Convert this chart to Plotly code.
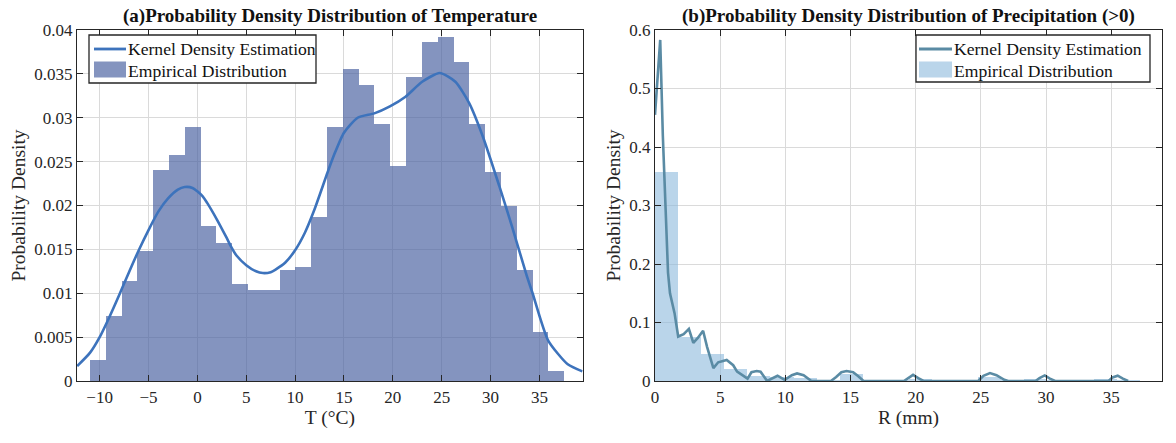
import plotly.graph_objects as go

# ---------------- data ----------------
# (a) temperature histogram: bin edges and densities
temp_bin_edges = [-11.0, -9.38, -7.76, -6.15, -4.53, -2.91, -1.29, 0.33, 1.94, 3.56,
                  5.18, 6.80, 8.42, 10.03, 11.65, 13.27, 14.89, 16.51, 18.12, 19.74,
                  21.36, 22.98, 24.60, 26.21, 27.83, 29.45, 31.07, 32.69, 34.30, 35.92, 37.54]
temp_density = [0.0024, 0.0074, 0.0114, 0.0148, 0.0240, 0.0258, 0.0289, 0.0177, 0.0157, 0.0110,
                0.0104, 0.0104, 0.0126, 0.0130, 0.0187, 0.0290, 0.0355, 0.0337, 0.0293, 0.0245,
                0.0346, 0.0386, 0.0392, 0.0364, 0.0293, 0.0238, 0.0199, 0.0126, 0.0056, 0.0011]
# (a) kernel density estimate
temp_kde_x = [-12.3, -11, -10, -9, -8, -7, -6, -5, -4, -3, -2, -1.3, -0.5, 0.5, 1.0, 2.0, 3.0, 3.5,
              4.0, 5.0, 6.0, 6.7, 7.5, 8.0, 9.0, 10.0, 11.0, 12.0, 13.3, 14.0, 15.0, 16.4, 18.1,
              19.7, 21.3, 23.0, 24.8, 26.4, 27.8, 29.2, 30.9, 32.2, 33.7, 34.3, 35.9, 37.9, 39.4]
temp_kde_y = [0.0017, 0.0032, 0.0050, 0.0073, 0.0098, 0.0124, 0.0149, 0.0172, 0.0193, 0.0208,
              0.0218, 0.0221, 0.0220, 0.0211, 0.0203, 0.0184, 0.0163, 0.0152, 0.0143, 0.0132,
              0.0125, 0.0123, 0.0124, 0.0127, 0.0135, 0.0149, 0.0169, 0.0196, 0.0237, 0.0258,
              0.0283, 0.0300, 0.0305, 0.0313, 0.0324, 0.0341, 0.0351, 0.0341, 0.0317, 0.0279,
              0.0222, 0.0176, 0.0120, 0.0100, 0.0046, 0.0019, 0.0011]

# (b) precipitation histogram
prec_bin_edges = [0.0, 1.77, 3.54, 5.31, 7.08, 8.86, 10.63, 12.40, 14.17, 15.94, 17.71, 19.48,
                  21.25, 23.02, 24.79, 26.56, 28.33, 30.10, 31.88, 33.65, 35.42, 37.19]
prec_density = [0.357, 0.075, 0.046, 0.020, 0.009, 0.006, 0.005, 0.002, 0.012, 0.0, 0.002,
                0.003, 0.0, 0.0, 0.006, 0.001, 0.003, 0.001, 0.0, 0.003, 0.002]
# (b) kernel density estimate
prec_kde_x = [0.0, 0.4, 0.6, 0.8, 1.0, 1.15, 1.5, 1.78, 2.2, 2.6, 2.94, 3.3, 3.69, 4.0, 4.48,
              4.85, 5.5, 6.0, 6.3, 7.1, 7.4, 7.8, 8.1, 8.6, 9.0, 9.4, 9.95, 10.5, 10.9, 11.4,
              12.0, 13.5, 13.9, 14.3, 14.7, 15.2, 15.6, 16.0, 19.1, 19.5, 19.8, 20.2, 20.6,
              24.8, 25.2, 25.7, 26.2, 26.8, 27.1, 29.2, 29.5, 29.9, 30.3, 30.7, 34.8, 35.1,
              35.5, 35.9, 36.3]
prec_kde_y = [0.455, 0.583, 0.42, 0.287, 0.185, 0.150, 0.116, 0.076, 0.080, 0.089, 0.065,
              0.074, 0.086, 0.058, 0.022, 0.032, 0.036, 0.027, 0.016, 0.004, 0.015, 0.017,
              0.016, 0.0, 0.004, 0.009, 0.002, 0.010, 0.013, 0.010, 0.0, 0.0, 0.007, 0.015,
              0.017, 0.015, 0.008, 0.0, 0.0, 0.006, 0.0105, 0.005, 0.0, 0.0, 0.009, 0.0135,
              0.010, 0.002, 0.0, 0.0, 0.005, 0.0096, 0.004, 0.0, 0.0, 0.006, 0.009, 0.004, 0.0]

temp_ticks = [-10, -5, 0, 5, 10, 15, 20, 25, 30, 35]
temp_yticks = [0, 0.005, 0.01, 0.015, 0.02, 0.025, 0.03, 0.035, 0.04]
prec_ticks = [0, 5, 10, 15, 20, 25, 30, 35]
prec_yticks = [0, 0.1, 0.2, 0.3, 0.4, 0.5, 0.6]

legend_labels = ["Kernel Density Estimation", "Empirical Distribution"]

# ---------------- figure ----------------
FONT = "Liberation Serif"
W, H = 1176, 443
ML, MR, MT, MB = 77, 14, 30, 62
PW, PH = W - ML - MR, H - MT - MB

TEMP_BAR = "rgba(72,95,160,0.67)"
TEMP_LINE = "#3D73BC"
PREC_BAR = "rgba(140,185,220,0.6)"
PREC_LINE = "#5A8BA4"


def px(xp):
    return (xp - ML) / PW


def py(yp):
    return (H - MB - yp) / PH


def centers_widths(edges):
    c = [(edges[i] + edges[i + 1]) / 2 for i in range(len(edges) - 1)]
    w = [edges[i + 1] - edges[i] for i in range(len(edges) - 1)]
    return c, w


fig = go.Figure()

tc, tw = centers_widths(temp_bin_edges)
fig.add_trace(go.Bar(x=tc, y=temp_density, width=tw, name=legend_labels[1],
                     marker=dict(color=TEMP_BAR, line=dict(width=0)),
                     xaxis="x", yaxis="y", showlegend=False))
fig.add_trace(go.Scatter(x=temp_kde_x, y=temp_kde_y, mode="lines", name=legend_labels[0],
                         line=dict(color=TEMP_LINE, width=2.6, shape="spline", smoothing=0.6),
                         xaxis="x", yaxis="y", showlegend=False))

pc, pw = centers_widths(prec_bin_edges)
fig.add_trace(go.Bar(x=pc, y=prec_density, width=pw, name=legend_labels[1],
                     marker=dict(color=PREC_BAR, line=dict(width=0)),
                     xaxis="x2", yaxis="y2", showlegend=False))
fig.add_trace(go.Scatter(x=prec_kde_x, y=prec_kde_y, mode="lines", name=legend_labels[0],
                         line=dict(color=PREC_LINE, width=2.6),
                         xaxis="x2", yaxis="y2", showlegend=False))

D1 = [px(77), px(582.7)]
D2 = [px(655), px(1162)]

axis_common = dict(showline=True, linecolor="#262626", linewidth=1.2, mirror="ticks",
                   ticks="inside", ticklen=6, tickcolor="#262626", tickwidth=1.2,
                   showgrid=True, gridcolor="#DADADA", gridwidth=1, zeroline=False,
                   automargin=False,
                   tickfont=dict(family=FONT, size=17, color="#262626"))

shapes = []
annotations = []


def add_legend(x0, x1, y0, y1, sym_x0, sym_x1, line_color, bar_color, text_x, rows_y, rect_y):
    shapes.append(dict(type="rect", xref="paper", yref="paper", x0=px(x0), x1=px(x1),
                       y0=py(y1), y1=py(y0), fillcolor="white",
                       line=dict(color="#262626", width=1.3), layer="above"))
    shapes.append(dict(type="line", xref="paper", yref="paper", x0=px(sym_x0), x1=px(sym_x1),
                       y0=py(rows_y[0]), y1=py(rows_y[0]),
                       line=dict(color=line_color, width=2.8), layer="above"))
    shapes.append(dict(type="rect", xref="paper", yref="paper", x0=px(sym_x0), x1=px(sym_x1),
                       y0=py(rect_y[1]), y1=py(rect_y[0]), fillcolor=bar_color,
                       line=dict(width=0), layer="above"))
    for lab, ry in zip(legend_labels, rows_y):
        annotations.append(dict(text=lab, x=px(text_x), y=py(ry), xref="paper", yref="paper",
                                xanchor="left", yanchor="middle", showarrow=False,
                                font=dict(family=FONT, size=17.6, color="#111")))


add_legend(89, 316, 35, 83, 94, 126, TEMP_LINE, TEMP_BAR, 125.5, [49, 70.5], [61.5, 77.5])
add_legend(916, 1150, 35, 82, 919, 952, PREC_LINE, PREC_BAR, 951.5, [49, 70.5], [61.5, 77.5])

annotations += [
    dict(text="<b>(a)Probability Density Distribution of Temperature</b>", x=(D1[0] + D1[1]) / 2,
         y=1, xref="paper", yref="paper", xanchor="center", yanchor="bottom", showarrow=False,
         font=dict(family=FONT, size=19, color="#111"), yshift=1),
    dict(text="<b>(b)Probability Density Distribution of Precipitation (>0)</b>", x=(D2[0] + D2[1]) / 2,
         y=1, xref="paper", yref="paper", xanchor="center", yanchor="bottom", showarrow=False,
         font=dict(family=FONT, size=19, color="#111"), yshift=1),
]

fig.update_layout(
    width=W, height=H,
    margin=dict(l=ML, r=MR, t=MT, b=MB, pad=0),
    paper_bgcolor="white", plot_bgcolor="white",
    bargap=0, barmode="overlay",
    font=dict(family=FONT, color="#262626"),
    showlegend=False,
    xaxis=dict(domain=D1, range=[-12.32, 39.43], tickvals=temp_ticks, anchor="y",
               title=dict(text="T (°C)", font=dict(family=FONT, size=19.5), standoff=4), **axis_common),
    yaxis=dict(domain=[0, 1], range=[0, 0.04], tickvals=temp_yticks,
               ticktext=[f"{v:g}" for v in temp_yticks], anchor="x",
               title=dict(text="Probability Density", font=dict(family=FONT, size=19.5), standoff=3),
               **axis_common),
    xaxis2=dict(domain=D2, range=[0, 38.9], tickvals=prec_ticks, anchor="y2",
                title=dict(text="R (mm)", font=dict(family=FONT, size=19.5), standoff=4), **axis_common),
    yaxis2=dict(domain=[0, 1], range=[0, 0.6], tickvals=prec_yticks,
                ticktext=[f"{v:g}" for v in prec_yticks], anchor="x2",
                title=dict(text="Probability Density", font=dict(family=FONT, size=19.5), standoff=3),
                **axis_common),
    shapes=shapes,
    annotations=annotations,
)

fig.write_html("out.html")
